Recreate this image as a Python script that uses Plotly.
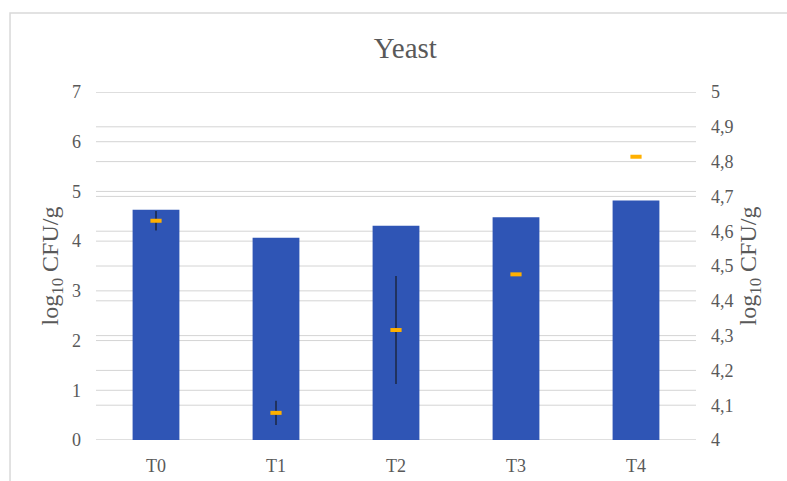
import plotly.graph_objects as go

# Sampling times
categories = ["T0", "T1", "T2", "T3", "T4"]

# Yeast counts (left axis, bars)
bar_values = [4.63, 4.07, 4.31, 4.48, 4.82]

# Yeast counts on the zoomed right axis (markers with error bars)
marker_values = [4.63, 4.078, 4.316, 4.476, 4.814]
marker_errors = [0.028, 0.035, 0.155, 0.0, 0.0]

left_ticks = [0, 1, 2, 3, 4, 5, 6, 7]
right_ticks = [4, 4.1, 4.2, 4.3, 4.4, 4.5, 4.6, 4.7, 4.8, 4.9, 5]

font_family = "Liberation Serif, Times New Roman, serif"
text_grey = "#595959"
grid_grey = "#D4D4D4"

fig = go.Figure()

fig.add_trace(go.Bar(
    x=categories,
    y=bar_values,
    marker=dict(color="#2F55B5", line=dict(width=0)),
    width=0.39,
    yaxis="y",
    showlegend=False,
))

fig.add_trace(go.Scatter(
    x=categories,
    y=marker_values,
    mode="markers",
    marker=dict(symbol="line-ew", size=8, color="#FFB000",
                line=dict(color="#FFB000", width=4)),
    error_y=dict(type="data", array=marker_errors, visible=True,
                 color="#1C2743", thickness=1.5, width=0),
    yaxis="y2",
    showlegend=False,
))

# Horizontal gridlines for both value axes, placed through each axis scale
grid_shapes = []
for v in left_ticks:
    grid_shapes.append(dict(type="line", xref="paper", yref="y", x0=0, x1=1,
                            y0=v, y1=v, layer="below",
                            line=dict(color=grid_grey, width=1)))
for v in right_ticks:
    grid_shapes.append(dict(type="line", xref="paper", yref="y2", x0=0, x1=1,
                            y0=v, y1=v, layer="below",
                            line=dict(color=grid_grey, width=1)))

# Light frame around the chart area
frame = dict(type="rect", xref="paper", yref="paper",
             x0=-0.1433, x1=1.16, y0=-0.13, y1=1.227,
             line=dict(color="#D9D9D9", width=1.5), fillcolor="rgba(0,0,0,0)",
             layer="below")

fig.update_layout(
    width=787,
    height=481,
    margin=dict(l=96, r=91, t=92, b=41),
    paper_bgcolor="white",
    plot_bgcolor="white",
    separators=", ",
    font=dict(family=font_family, color=text_grey, size=18),
    title=dict(text="Yeast", xref="container", x=0.515, xanchor="center",
               y=0.9, yanchor="middle",
               font=dict(size=29, color=text_grey, family=font_family)),
    xaxis=dict(
        showgrid=False,
        showline=False,
        ticks="",
        automargin=False,
        ticklabelstandoff=13,
        tickfont=dict(size=18, color=text_grey),
    ),
    yaxis=dict(
        range=[0, 7],
        tickvals=left_ticks,
        showgrid=False,
        zeroline=False,
        ticks="",
        automargin=False,
        ticklabelstandoff=14,
        tickfont=dict(size=18, color=text_grey),
        title=dict(text="log<sub>10</sub> CFU/g", standoff=6,
                   font=dict(size=24, color=text_grey)),
    ),
    yaxis2=dict(
        range=[4, 5],
        tickvals=right_ticks,
        overlaying="y",
        side="right",
        showgrid=False,
        zeroline=False,
        ticks="",
        automargin=False,
        ticklabelstandoff=14,
        tickfont=dict(size=18, color=text_grey),
        title=dict(text="log<sub>10</sub> CFU/g", standoff=6,
                   font=dict(size=24, color=text_grey)),
    ),
    shapes=grid_shapes + [frame],
)

fig.write_html("out.html")
